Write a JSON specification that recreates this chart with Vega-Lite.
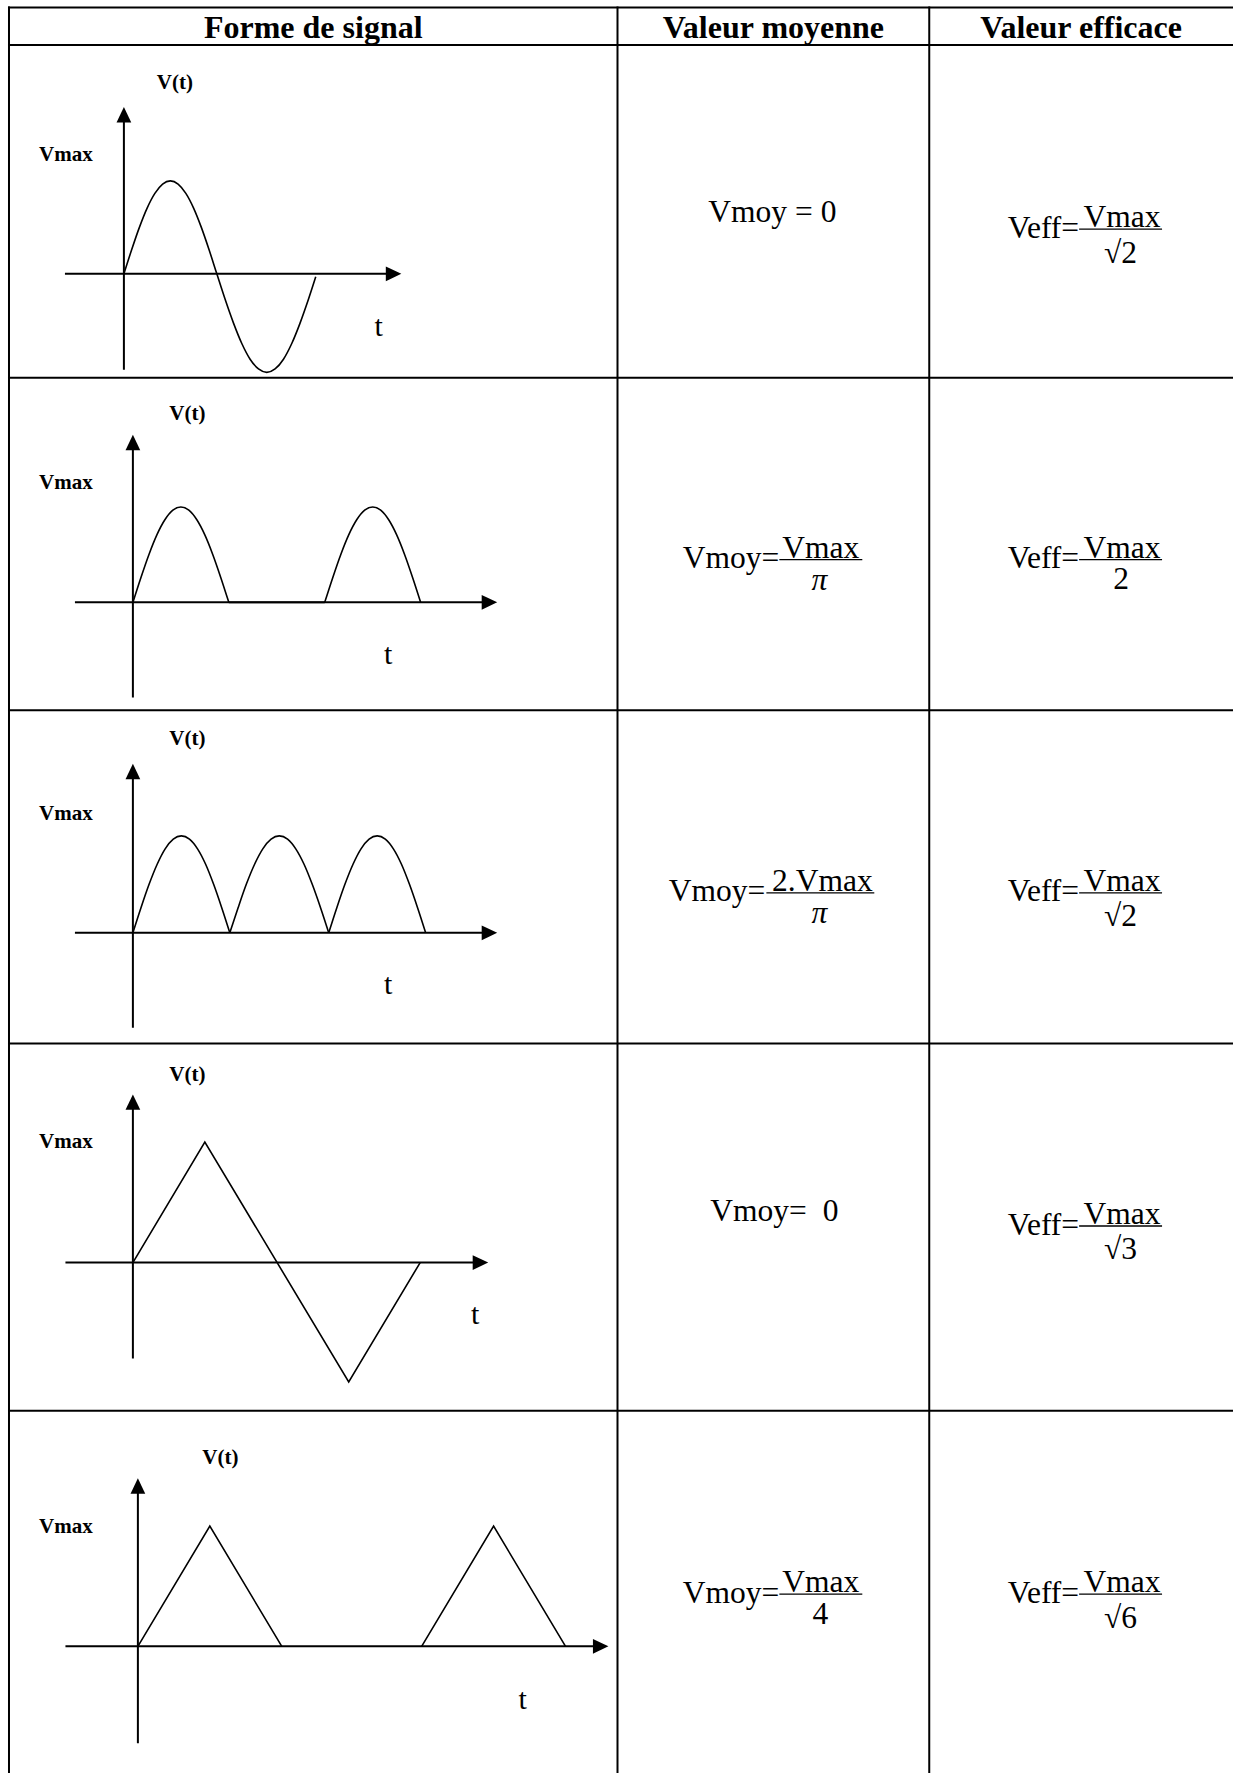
{
  "$schema": "https://vega.github.io/schema/vega-lite/v6.json",
  "width": 1234,
  "height": 1774,
  "padding": 0,
  "autosize": {"type": "fit", "contains": "padding"},
  "background": "white",
  "config": {"view": {"stroke": null}},
  "datasets": {
    "grid": [
      {"x": 8, "y": 7.5, "x2": 1234, "y2": 7.5},
      {"x": 8, "y": 45, "x2": 1234, "y2": 45},
      {"x": 8, "y": 378, "x2": 1234, "y2": 378},
      {"x": 8, "y": 710.7, "x2": 1234, "y2": 710.7},
      {"x": 8, "y": 1044, "x2": 1234, "y2": 1044},
      {"x": 8, "y": 1411.5, "x2": 1234, "y2": 1411.5},
      {"x": 9, "y": 6.5, "x2": 9, "y2": 1774},
      {"x": 618, "y": 6.5, "x2": 618, "y2": 1774},
      {"x": 930, "y": 6.5, "x2": 930, "y2": 1774},
      {"x": 124, "y": 114, "x2": 124, "y2": 370},
      {"x": 65, "y": 274, "x2": 394, "y2": 274},
      {"x": 133, "y": 442, "x2": 133, "y2": 698},
      {"x": 75, "y": 602.7, "x2": 490, "y2": 602.7},
      {"x": 133, "y": 771, "x2": 133, "y2": 1028.3},
      {"x": 75, "y": 933.3, "x2": 490, "y2": 933.3},
      {"x": 133, "y": 1102, "x2": 133, "y2": 1359.3},
      {"x": 65.5, "y": 1263.3, "x2": 481, "y2": 1263.3},
      {"x": 138, "y": 1486, "x2": 138, "y2": 1744.3},
      {"x": 65.5, "y": 1647.3, "x2": 601, "y2": 1647.3}
    ],
    "bars": [
      {"x": 1080, "x2": 1163, "y": 229.3},
      {"x": 780, "x2": 863, "y": 560},
      {"x": 1080, "x2": 1163, "y": 560},
      {"x": 767, "x2": 875, "y": 893.3},
      {"x": 1080, "x2": 1163, "y": 893.3},
      {"x": 1080, "x2": 1163, "y": 1226.7},
      {"x": 780, "x2": 863, "y": 1595},
      {"x": 1080, "x2": 1163, "y": 1595}
    ],
    "sine": [
      {"id": "r1", "x": 124, "y": 274},
      {"id": "r1", "x": 131.75, "y": 249.9},
      {"id": "r1", "x": 139.5, "y": 227.5},
      {"id": "r1", "x": 147.25, "y": 208.2},
      {"id": "r1", "x": 155, "y": 193.5},
      {"id": "r1", "x": 162.75, "y": 184.2},
      {"id": "r1", "x": 170.5, "y": 181},
      {"id": "r1", "x": 178.25, "y": 184.2},
      {"id": "r1", "x": 186, "y": 193.5},
      {"id": "r1", "x": 193.75, "y": 208.2},
      {"id": "r1", "x": 201.5, "y": 227.5},
      {"id": "r1", "x": 209.25, "y": 249.9},
      {"id": "r1", "x": 217, "y": 274},
      {"id": "r1", "x": 225.3, "y": 299.5},
      {"id": "r1", "x": 233.7, "y": 323.3},
      {"id": "r1", "x": 242, "y": 343.7},
      {"id": "r1", "x": 250.3, "y": 359.4},
      {"id": "r1", "x": 258.7, "y": 369.2},
      {"id": "r1", "x": 267, "y": 372.6},
      {"id": "r1", "x": 275.3, "y": 369.2},
      {"id": "r1", "x": 283.7, "y": 359.4},
      {"id": "r1", "x": 292, "y": 343.7},
      {"id": "r1", "x": 300.3, "y": 323.3},
      {"id": "r1", "x": 308.7, "y": 299.5},
      {"id": "r1", "x": 316, "y": 277},
      {"id": "r2a", "x": 133, "y": 602.7},
      {"id": "r2a", "x": 141, "y": 578.0},
      {"id": "r2a", "x": 149, "y": 555.0},
      {"id": "r2a", "x": 157, "y": 535.2},
      {"id": "r2a", "x": 165, "y": 520.1},
      {"id": "r2a", "x": 173, "y": 510.5},
      {"id": "r2a", "x": 181, "y": 507.3},
      {"id": "r2a", "x": 189, "y": 510.5},
      {"id": "r2a", "x": 197, "y": 520.1},
      {"id": "r2a", "x": 205, "y": 535.2},
      {"id": "r2a", "x": 213, "y": 555.0},
      {"id": "r2a", "x": 221, "y": 578.0},
      {"id": "r2a", "x": 229, "y": 602.7},
      {"id": "r2b", "x": 325, "y": 602.7},
      {"id": "r2b", "x": 333, "y": 578.0},
      {"id": "r2b", "x": 341, "y": 555.0},
      {"id": "r2b", "x": 349, "y": 535.2},
      {"id": "r2b", "x": 357, "y": 520.1},
      {"id": "r2b", "x": 365, "y": 510.5},
      {"id": "r2b", "x": 373, "y": 507.3},
      {"id": "r2b", "x": 381, "y": 510.5},
      {"id": "r2b", "x": 389, "y": 520.1},
      {"id": "r2b", "x": 397, "y": 535.2},
      {"id": "r2b", "x": 405, "y": 555.0},
      {"id": "r2b", "x": 413, "y": 578.0},
      {"id": "r2b", "x": 421, "y": 602.7},
      {"id": "r3a", "x": 133, "y": 933.3},
      {"id": "r3a", "x": 141.1, "y": 908.2},
      {"id": "r3a", "x": 149.2, "y": 884.8},
      {"id": "r3a", "x": 157.3, "y": 864.7},
      {"id": "r3a", "x": 165.3, "y": 849.3},
      {"id": "r3a", "x": 173.4, "y": 839.6},
      {"id": "r3a", "x": 181.5, "y": 836.3},
      {"id": "r3a", "x": 189.6, "y": 839.6},
      {"id": "r3a", "x": 197.7, "y": 849.3},
      {"id": "r3a", "x": 205.8, "y": 864.7},
      {"id": "r3a", "x": 213.8, "y": 884.8},
      {"id": "r3a", "x": 221.9, "y": 908.2},
      {"id": "r3a", "x": 230, "y": 933.3},
      {"id": "r3b", "x": 230, "y": 933.3},
      {"id": "r3b", "x": 238.3, "y": 908.2},
      {"id": "r3b", "x": 246.5, "y": 884.8},
      {"id": "r3b", "x": 254.8, "y": 864.7},
      {"id": "r3b", "x": 263, "y": 849.3},
      {"id": "r3b", "x": 271.3, "y": 839.6},
      {"id": "r3b", "x": 279.5, "y": 836.3},
      {"id": "r3b", "x": 287.8, "y": 839.6},
      {"id": "r3b", "x": 296, "y": 849.3},
      {"id": "r3b", "x": 304.3, "y": 864.7},
      {"id": "r3b", "x": 312.5, "y": 884.8},
      {"id": "r3b", "x": 320.8, "y": 908.2},
      {"id": "r3b", "x": 329, "y": 933.3},
      {"id": "r3c", "x": 329, "y": 933.3},
      {"id": "r3c", "x": 337.1, "y": 908.2},
      {"id": "r3c", "x": 345.2, "y": 884.8},
      {"id": "r3c", "x": 353.3, "y": 864.7},
      {"id": "r3c", "x": 361.3, "y": 849.3},
      {"id": "r3c", "x": 369.4, "y": 839.6},
      {"id": "r3c", "x": 377.5, "y": 836.3},
      {"id": "r3c", "x": 385.6, "y": 839.6},
      {"id": "r3c", "x": 393.7, "y": 849.3},
      {"id": "r3c", "x": 401.8, "y": 864.7},
      {"id": "r3c", "x": 409.8, "y": 884.8},
      {"id": "r3c", "x": 417.9, "y": 908.2},
      {"id": "r3c", "x": 426, "y": 933.3}
    ],
    "tri": [
      {"id": "r2flat", "x": 229, "y": 602.7},
      {"id": "r2flat", "x": 325, "y": 602.7},
      {"id": "r4", "x": 133, "y": 1263.3},
      {"id": "r4", "x": 205, "y": 1142.7},
      {"id": "r4", "x": 349, "y": 1382.7},
      {"id": "r4", "x": 420.5, "y": 1263.3},
      {"id": "r5a", "x": 138, "y": 1647.3},
      {"id": "r5a", "x": 210, "y": 1527},
      {"id": "r5a", "x": 282, "y": 1647.3},
      {"id": "r5b", "x": 422, "y": 1647.3},
      {"id": "r5b", "x": 494, "y": 1527},
      {"id": "r5b", "x": 566, "y": 1647.3}
    ],
    "arrowsUp": [
      {"x": 124, "y": 114.75},
      {"x": 133, "y": 442.75},
      {"x": 133, "y": 772},
      {"x": 133, "y": 1102.75},
      {"x": 138, "y": 1486.75}
    ],
    "arrowsRight": [
      {"x": 393.9, "y": 274},
      {"x": 489.85, "y": 602.7},
      {"x": 489.85, "y": 933.3},
      {"x": 480.85, "y": 1263.3},
      {"x": 601.15, "y": 1647.3}
    ],
    "headers": [
      {"x": 313.5, "y": 38, "text": "Forme de signal"},
      {"x": 774, "y": 38, "text": "Valeur moyenne"},
      {"x": 1082, "y": 38, "text": "Valeur efficace"}
    ],
    "labels": [
      {"x": 175, "y": 89.5, "text": "V(t)"},
      {"x": 187.5, "y": 420, "text": "V(t)"},
      {"x": 187.5, "y": 745, "text": "V(t)"},
      {"x": 187.5, "y": 1081.5, "text": "V(t)"},
      {"x": 220.5, "y": 1465, "text": "V(t)"},
      {"x": 66, "y": 161.5, "text": "Vmax"},
      {"x": 66, "y": 489, "text": "Vmax"},
      {"x": 66, "y": 820, "text": "Vmax"},
      {"x": 66, "y": 1149, "text": "Vmax"},
      {"x": 66, "y": 1534, "text": "Vmax"}
    ],
    "tlabels": [
      {"x": 379, "y": 336, "text": "t"},
      {"x": 388.5, "y": 664, "text": "t"},
      {"x": 388.5, "y": 995, "text": "t"},
      {"x": 475.5, "y": 1325, "text": "t"},
      {"x": 523, "y": 1710, "text": "t"}
    ],
    "centered": [
      {"x": 773, "y": 222, "text": "Vmoy = 0"},
      {"x": 775, "y": 1222, "text": "Vmoy=\u00a0 0"},
      {"x": 1123, "y": 227.3, "text": "Vmax"},
      {"x": 821.5, "y": 558, "text": "Vmax"},
      {"x": 1123, "y": 558, "text": "Vmax"},
      {"x": 823, "y": 891.3, "text": "2.Vmax"},
      {"x": 1123, "y": 891.3, "text": "Vmax"},
      {"x": 1123, "y": 1224.7, "text": "Vmax"},
      {"x": 821.5, "y": 1593, "text": "Vmax"},
      {"x": 1123, "y": 1593, "text": "Vmax"},
      {"x": 1122, "y": 589.5, "text": "2"},
      {"x": 821, "y": 1624.5, "text": "4"},
      {"x": 1121.5, "y": 262.8, "text": "√2"},
      {"x": 1121.5, "y": 926.8, "text": "√2"},
      {"x": 1121.5, "y": 1260.2, "text": "√3"},
      {"x": 1121.5, "y": 1628.5, "text": "√6"}
    ],
    "pi": [
      {"x": 820, "y": 590, "text": "π"},
      {"x": 820, "y": 923.5, "text": "π"}
    ],
    "prefix": [
      {"x": 1080, "y": 237.8, "text": "Veff="},
      {"x": 780, "y": 568.5, "text": "Vmoy="},
      {"x": 1080, "y": 568.5, "text": "Veff="},
      {"x": 766, "y": 901.8, "text": "Vmoy="},
      {"x": 1080, "y": 901.8, "text": "Veff="},
      {"x": 1080, "y": 1235.2, "text": "Veff="},
      {"x": 780, "y": 1603.5, "text": "Vmoy="},
      {"x": 1080, "y": 1603.5, "text": "Veff="}
    ]
  },
  "encoding": {
    "x": {"field": "x", "type": "quantitative", "scale": {"domain": [0, 1234], "nice": false, "zero": false}, "axis": null},
    "y": {"field": "y", "type": "quantitative", "scale": {"domain": [0, 1774], "nice": false, "zero": false, "reverse": true}, "axis": null}
  },
  "layer": [
    {
      "data": {"name": "grid"},
      "mark": {"type": "rule", "color": "black", "strokeWidth": 2},
      "encoding": {"x2": {"field": "x2"}, "y2": {"field": "y2"}}
    },
    {
      "data": {"name": "bars"},
      "mark": {"type": "rule", "color": "black", "strokeWidth": 1.3},
      "encoding": {"x2": {"field": "x2"}}
    },
    {
      "data": {"name": "sine"},
      "mark": {"type": "line", "color": "black", "strokeWidth": 1.6, "interpolate": "monotone"},
      "encoding": {"detail": {"field": "id"}}
    },
    {
      "data": {"name": "tri"},
      "mark": {"type": "line", "color": "black", "strokeWidth": 1.6, "interpolate": "linear"},
      "encoding": {"detail": {"field": "id"}}
    },
    {
      "data": {"name": "arrowsUp"},
      "mark": {"type": "point", "shape": "M0,-1L0.95,1L-0.95,1Z", "size": 240, "filled": true, "color": "black", "opacity": 1}
    },
    {
      "data": {"name": "arrowsRight"},
      "mark": {"type": "point", "shape": "M1,0L-1,0.95L-1,-0.95Z", "size": 240, "filled": true, "color": "black", "opacity": 1}
    },
    {
      "data": {"name": "headers"},
      "mark": {"type": "text", "font": "Liberation Serif", "fontSize": 32, "fontWeight": "bold", "align": "center", "baseline": "alphabetic", "color": "black"},
      "encoding": {"text": {"field": "text"}}
    },
    {
      "data": {"name": "labels"},
      "mark": {"type": "text", "font": "Liberation Serif", "fontSize": 21, "fontWeight": "bold", "align": "center", "baseline": "alphabetic", "color": "black"},
      "encoding": {"text": {"field": "text"}}
    },
    {
      "data": {"name": "tlabels"},
      "mark": {"type": "text", "font": "Liberation Serif", "fontSize": 30, "align": "center", "baseline": "alphabetic", "color": "black"},
      "encoding": {"text": {"field": "text"}}
    },
    {
      "data": {"name": "centered"},
      "mark": {"type": "text", "font": "Liberation Serif", "fontSize": 31.5, "align": "center", "baseline": "alphabetic", "color": "black"},
      "encoding": {"text": {"field": "text"}}
    },
    {
      "data": {"name": "pi"},
      "mark": {"type": "text", "font": "Liberation Serif", "fontSize": 31.5, "fontStyle": "italic", "align": "center", "baseline": "alphabetic", "color": "black"},
      "encoding": {"text": {"field": "text"}}
    },
    {
      "data": {"name": "prefix"},
      "mark": {"type": "text", "font": "Liberation Serif", "fontSize": 31.5, "align": "right", "baseline": "alphabetic", "color": "black"},
      "encoding": {"text": {"field": "text"}}
    }
  ]
}
